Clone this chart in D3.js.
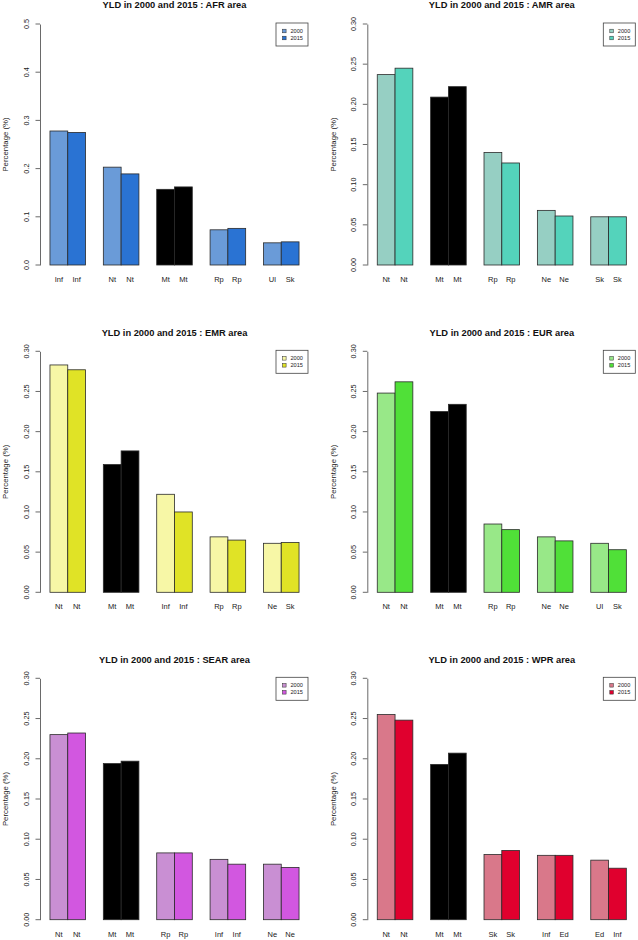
<!DOCTYPE html>
<html>
<head>
<meta charset="utf-8">
<script src="https://cdn.jsdelivr.net/npm/d3@7"></script>
<style>
  html, body { margin: 0; padding: 0; background: #fff; }
  svg { display: block; font-family: "Liberation Sans", Arial, Helvetica, sans-serif; }
</style>
</head>
<body>
<svg id="chart" width="638" height="940"></svg>
<script>
// ---- data ----
const regions = ["AFR", "AMR", "EMR", "EUR", "SEAR", "WPR"];
const series = ["2000", "2015"];

const labelsAFR  = ["Inf", "Inf", "Nt", "Nt", "Mt", "Mt", "Rp", "Rp", "Ul", "Sk"];
const labelsAMR  = ["Nt", "Nt", "Mt", "Mt", "Rp", "Rp", "Ne", "Ne", "Sk", "Sk"];
const labelsEMR  = ["Nt", "Nt", "Mt", "Mt", "Inf", "Inf", "Rp", "Rp", "Ne", "Sk"];
const labelsEUR  = ["Nt", "Nt", "Mt", "Mt", "Rp", "Rp", "Ne", "Ne", "Ul", "Sk"];
const labelsSEAR = ["Nt", "Nt", "Mt", "Mt", "Rp", "Rp", "Inf", "Inf", "Ne", "Ne"];
const labelsWPR  = ["Nt", "Nt", "Mt", "Mt", "Sk", "Sk", "Inf", "Ed", "Ed", "Inf"];

const afr2000  = [0.278, 0.203, 0.157, 0.073, 0.046];
const afr2015  = [0.275, 0.189, 0.162, 0.076, 0.048];
const amr2000  = [0.237, 0.209, 0.140, 0.068, 0.060];
const amr2015  = [0.245, 0.222, 0.127, 0.061, 0.060];
const emr2000  = [0.283, 0.159, 0.122, 0.069, 0.061];
const emr2015  = [0.277, 0.176, 0.100, 0.065, 0.062];
const eur2000  = [0.248, 0.225, 0.085, 0.069, 0.061];
const eur2015  = [0.262, 0.234, 0.078, 0.064, 0.053];
const sear2000 = [0.230, 0.194, 0.083, 0.075, 0.069];
const sear2015 = [0.232, 0.197, 0.083, 0.069, 0.065];
const wpr2000  = [0.255, 0.193, 0.081, 0.080, 0.074];
const wpr2015  = [0.248, 0.207, 0.086, 0.080, 0.064];

const yMaxes = [0.5, 0.3, 0.3, 0.3, 0.3, 0.3];
const yTicksAFR = [0, 0.1, 0.2, 0.3, 0.4, 0.5];
const yTicksOther = [0, 0.05, 0.10, 0.15, 0.20, 0.25, 0.30];

const colors2000 = ["#6a9bd8", "#96cfc3", "#f7f7a6", "#98e888", "#c98fd3", "#d9788a"];
const colors2015 = ["#2a73d3", "#54d3bb", "#e0e326", "#50e038", "#d257e0", "#e0002e"];

const panels = [
  { region: regions[0], labels: labelsAFR,  v2000: afr2000,  v2015: afr2015,  yMax: yMaxes[0], ticks: yTicksAFR,   fmt: ".1f" },
  { region: regions[1], labels: labelsAMR,  v2000: amr2000,  v2015: amr2015,  yMax: yMaxes[1], ticks: yTicksOther, fmt: ".2f" },
  { region: regions[2], labels: labelsEMR,  v2000: emr2000,  v2015: emr2015,  yMax: yMaxes[2], ticks: yTicksOther, fmt: ".2f" },
  { region: regions[3], labels: labelsEUR,  v2000: eur2000,  v2015: eur2015,  yMax: yMaxes[3], ticks: yTicksOther, fmt: ".2f" },
  { region: regions[4], labels: labelsSEAR, v2000: sear2000, v2015: sear2015, yMax: yMaxes[4], ticks: yTicksOther, fmt: ".2f" },
  { region: regions[5], labels: labelsWPR,  v2000: wpr2000,  v2015: wpr2015,  yMax: yMaxes[5], ticks: yTicksOther, fmt: ".2f" }
];

// ---- layout ----
const colX = [40, 367.3];              // y-axis x position per column
const rowTop = [24, 351.3, 678.3];     // pixel of y max
const rowBottom = [265, 592.3, 919.7]; // pixel of y = 0
const plotW = 269;

const svg = d3.select("#chart");
svg.append("rect").attr("width", 638).attr("height", 940).attr("fill", "#fff");

panels.forEach((p, i) => {
  const col = i % 2, row = Math.floor(i / 2);
  const x0 = colX[col], top = rowTop[row], bottom = rowBottom[row];
  const g = svg.append("g");

  // x in R barplot units: bars at [1,3],[4,6],... ; xlim = [0.44, 15.56]
  const x = d3.scaleLinear().domain([0.44, 15.56]).range([x0, x0 + plotW]);
  const y = d3.scaleLinear().domain([0, p.yMax]).range([bottom, top]);

  const bars = [];
  p.v2000.forEach((v, gi) => {
    bars.push({ gi, s: 0, v, label: p.labels[gi * 2] });
    bars.push({ gi, s: 1, v: p.v2015[gi], label: p.labels[gi * 2 + 1] });
  });
  const barLeft = d => 1 + d.gi * 3 + d.s;

  g.selectAll("rect.bar").data(bars).enter().append("rect")
    .attr("class", "bar")
    .attr("x", d => x(barLeft(d)))
    .attr("width", d => x(barLeft(d) + 1) - x(barLeft(d)))
    .attr("y", d => y(d.v))
    .attr("height", d => y(0) - y(d.v))
    .attr("fill", d => d.label === "Mt" ? "#000" : (d.s === 0 ? colors2000[i] : colors2015[i]))
    .attr("stroke", "#2a2a2a")
    .attr("stroke-width", 0.8);

  // bar name labels
  g.selectAll("text.nm").data(bars).enter().append("text")
    .attr("class", "nm")
    .attr("x", d => x(barLeft(d) + 0.5))
    .attr("y", bottom + 14.4)
    .attr("dy", "0.35em")
    .attr("text-anchor", "middle")
    .attr("font-size", 7.5)
    .attr("fill", "#222")
    .text(d => d.label);

  // y axis
  const axis = d3.axisLeft(y).tickValues(p.ticks).tickFormat(d3.format(p.fmt))
    .tickSizeOuter(0).tickSizeInner(4.5).tickPadding(0);
  const ag = g.append("g").attr("transform", `translate(${x0},0)`).call(axis);
  ag.select(".domain").attr("stroke", "#444").attr("stroke-width", 0.8);
  ag.selectAll(".tick line").attr("stroke", "#444").attr("stroke-width", 0.8);
  ag.selectAll(".tick text")
    .attr("font-family", "'Liberation Sans', Arial, sans-serif")
    .attr("font-size", 7.3)
    .attr("fill", "#222")
    .attr("text-anchor", "middle")
    .attr("x", 0).attr("y", 0).attr("dy", "0.35em")
    .attr("transform", d => `translate(-14,${y(d)}) rotate(-90)`);
  ag.selectAll(".tick").attr("transform", d => `translate(0,0)`);
  ag.selectAll(".tick line").attr("y1", d => y(d)).attr("y2", d => y(d));

  // y label
  g.append("text")
    .attr("transform", `translate(${x0 - 34.5},${(top + bottom) / 2}) rotate(-90)`)
    .attr("text-anchor", "middle")
    .attr("dy", "0.35em")
    .attr("font-size", 7.8)
    .attr("fill", "#222")
    .text("Percentage (%)");

  // title
  g.append("text")
    .attr("x", x0 + plotW / 2)
    .attr("y", top - 19)
    .attr("dy", "0.35em")
    .attr("text-anchor", "middle")
    .attr("font-size", 9.3)
    .attr("font-weight", "bold")
    .attr("fill", "#111")
    .text(`YLD in 2000 and 2015 : ${p.region} area`);

  // legend
  const lw = 32, lh = 23;
  const lx = x0 + plotW - 1 - lw, ly = top - 1;
  const lg = g.append("g").attr("transform", `translate(${lx},${ly})`);
  lg.append("rect").attr("width", lw).attr("height", lh)
    .attr("fill", "#fff").attr("stroke", "#444").attr("stroke-width", 0.8);
  series.forEach((s, k) => {
    const cy = 8 + k * 7;
    lg.append("rect").attr("x", 6.5).attr("y", cy - 1.8).attr("width", 3.6).attr("height", 3.6)
      .attr("fill", k === 0 ? colors2000[i] : colors2015[i])
      .attr("stroke", "#2a2a2a").attr("stroke-width", 0.5);
    lg.append("text").attr("x", 14.5).attr("y", cy).attr("dy", "0.35em")
      .attr("font-size", 5.6).attr("fill", "#222").text(s);
  });
});
</script>
</body>
</html>
